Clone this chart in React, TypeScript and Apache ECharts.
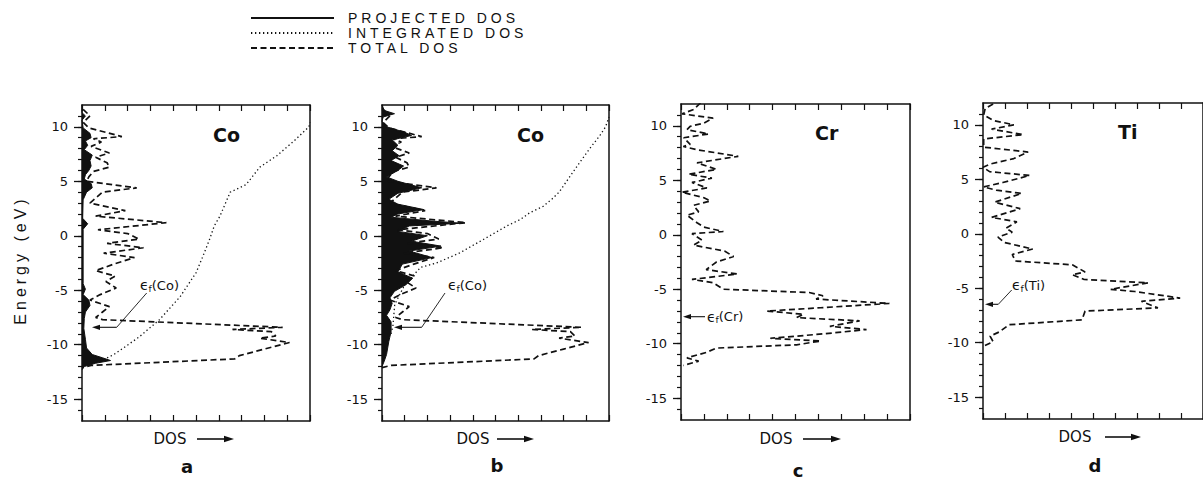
import React, { useEffect, useRef } from "react";
import * as echarts from "echarts";

// ---------- data (pairs are [energy eV, DOS]) ----------
const legendNames = ["PROJECTED DOS", "INTEGRATED DOS", "TOTAL DOS"];
const panelLetters = ["a", "b", "c", "d"];
const elementLabels = ["Co", "Co", "Cr", "Ti"];
const fermiElements = ["Co", "Co", "Cr", "Ti"];
const energyMajorTicks = [-15, -10, -5, 0, 5, 10];
const energyMinorTicks = [-16, -15, -14, -13, -12, -11, -10, -9, -8, -7, -6, -5, -4, -3, -2, -1, 0, 1, 2, 3, 4, 5, 6, 7, 8, 9, 10, 11];

const coTotalDos = [
  [11.6, 0.05], [11.0, 0.35], [10.4, 0.05], [9.9, 0.3], [9.1, 1.75], [8.9, 0.5], [8.6, 0.85], [8.2, 0.4],
  [7.6, 1.2], [7.2, 0.6], [6.7, 1.1], [6.3, 1.2], [5.9, 0.5], [5.4, 0.3], [5.0, 0.2], [4.4, 2.4], [4.0, 0.9],
  [3.0, 0.35], [2.3, 1.9], [1.8, 0.6], [1.2, 3.7], [0.55, 0.7], [0.2, 2.0], [-0.3, 2.5], [-0.7, 1.1],
  [-1.1, 2.7], [-1.6, 0.95], [-2.0, 2.3], [-2.6, 1.4], [-3.2, 0.6], [-3.7, 1.45], [-4.2, 1.05], [-4.8, 1.5],
  [-5.4, 0.8], [-5.9, 0.35], [-6.5, 1.2], [-7.0, 0.9], [-7.5, 0.6], [-7.7, 0.9], [-8.4, 8.8], [-8.6, 6.6],
  [-8.8, 8.3], [-9.2, 8.5], [-9.4, 7.8], [-9.8, 9.1], [-10.4, 8.0], [-11.0, 6.9], [-11.3, 6.7], [-11.9, 0.4],
  [-12.1, 0.0],
];

const coProjectedDosA = [
  [12.0, 0], [11.3, 0], [11.0, 0.15], [10.6, 0], [9.9, 0.05], [9.4, 0.35], [9.0, 0.4], [8.7, 0.15], [8.3, 0.25],
  [7.9, 0.1], [7.4, 0.45], [6.9, 0.35], [6.4, 0.4], [6.0, 0.3], [5.6, 0.15], [5.2, 0.1], [4.8, 0.4], [4.4, 0.45],
  [4.0, 0.2], [3.3, 0.05], [1.6, 0.03], [1.1, 0.25], [0.6, 0.05], [-4.4, 0.05], [-4.9, 0.15], [-5.4, 0.05],
  [-5.9, 0.3], [-6.4, 0.35], [-7.0, 0.15], [-7.6, 0.1], [-8.5, 0.08], [-9.5, 0.15], [-10.3, 0.2], [-10.9, 0.45],
  [-11.2, 0.9], [-11.45, 1.25], [-11.7, 0.6], [-12.0, 0.1], [-12.3, 0],
];

const coIntegratedDosA = [
  [-11.2, 1.1], [-10.9, 1.4], [-9.3, 2.5], [-7.7, 3.4], [-5.6, 4.3], [-3.4, 5.0], [-1.9, 5.3], [-0.3, 5.6],
  [0.9, 5.8], [1.8, 6.05], [4.0, 6.5], [4.7, 7.2], [6.3, 7.8], [7.35, 8.55], [8.7, 9.3], [10.0, 9.95], [10.4, 10.0],
];

const coProjectedDosB = [
  [12.0, 0], [11.5, 0.1], [11.2, 0.55], [10.9, 0.05], [10.5, 0], [10.0, 0.2], [9.5, 1.0], [9.2, 1.3], [8.8, 0.45],
  [8.3, 0.7], [7.8, 0.45], [7.35, 0.75], [6.9, 0.4], [6.4, 0.95], [6.0, 0.7], [5.4, 0.2], [5.0, 0.7], [4.4, 1.75],
  [3.9, 0.7], [3.35, 0.3], [2.9, 0.7], [2.4, 1.85], [2.0, 0.7], [1.7, 0.4], [1.35, 2.2], [1.15, 3.5], [0.9, 1.2],
  [0.4, 0.7], [0.0, 2.0], [-0.5, 1.3], [-0.95, 2.6], [-1.4, 1.2], [-2.0, 2.2], [-2.6, 0.9], [-3.3, 0.7],
  [-3.9, 1.35], [-4.5, 1.05], [-5.1, 0.55], [-5.7, 0.35], [-6.2, 0.45], [-6.8, 0.35], [-7.3, 0.2], [-7.9, 0.4],
  [-8.8, 0.4], [-9.7, 0.3], [-10.9, 0.2], [-11.5, 0.1], [-12.0, 0],
];

const coIntegratedDosB = [
  [-9.0, 0.4], [-8.3, 0.48], [-6.3, 0.56], [-4.5, 1.0], [-2.9, 1.7], [-2.5, 2.4], [-1.6, 3.4], [-0.3, 4.5],
  [0.9, 5.5], [1.5, 6.1], [2.1, 6.5], [2.7, 7.1], [3.4, 7.5], [4.0, 7.8], [4.9, 8.1], [5.8, 8.4], [6.7, 8.7],
  [8.0, 9.15], [9.2, 9.6], [10.0, 9.85], [10.9, 10.0],
];

const crTotalDos = [
  [12.1, 0.85], [11.5, 0.55], [11.1, 0.05], [10.7, 1.4], [10.25, 1.0], [9.95, 0.4], [9.65, 0.26], [9.25, 1.2],
  [8.9, 0.12], [8.3, 0.4], [8.1, 0.1], [7.8, 0.7], [7.2, 2.5], [6.6, 0.7], [6.0, 1.55], [5.55, 0.33], [5.2, 1.35],
  [4.8, 0.48], [4.3, 1.13], [3.9, 0.04], [3.4, 1.0], [3.1, 1.28], [2.7, 0.55], [2.1, 0.77], [1.8, 0.26], [1.1, 0.7],
  [0.7, 1.0], [0.3, 1.85], [0.1, 0.48], [-0.5, 0.92], [-0.95, 0.55], [-1.5, 1.9], [-2.0, 2.3], [-2.5, 1.55],
  [-3.2, 1.1], [-3.6, 2.45], [-4.1, 0.48], [-4.4, 1.4], [-5.0, 1.85], [-5.3, 5.6], [-5.6, 6.2], [-5.9, 5.9],
  [-6.3, 9.1], [-6.7, 6.1], [-7.0, 3.75], [-7.3, 5.35], [-7.6, 5.05], [-7.9, 7.8], [-8.4, 6.5], [-8.7, 8.1],
  [-9.1, 6.2], [-9.5, 3.9], [-9.75, 6.1], [-10.1, 5.05], [-10.4, 1.55], [-10.8, 1.1], [-11.3, 0.26],
  [-11.6, 0.77], [-12.0, 0.1],
];

const tiTotalDos = [
  [11.9, 0.46], [11.5, 0.1], [10.9, 0.03], [10.4, 0.46], [10.0, 1.4], [9.6, 0.39], [9.1, 1.83], [8.7, 0.03],
  [7.95, 0.03], [7.5, 2.05], [6.9, 1.4], [6.4, 0.32], [6.1, 0.0], [5.7, 0.3], [5.35, 2.12], [4.7, 0.9],
  [4.3, 0.03], [4.0, 0.6], [3.7, 1.76], [2.9, 0.53], [2.3, 1.69], [1.5, 0.39], [1.1, 1.54], [0.5, 1.04],
  [0.15, 1.33], [-0.3, 0.68], [-0.8, 0.97], [-1.4, 2.26], [-1.9, 1.33], [-2.5, 1.47], [-2.85, 4.06], [-3.5, 4.64],
  [-3.76, 4.06], [-4.2, 4.6], [-4.5, 7.5], [-5.1, 5.8], [-5.3, 6.9], [-5.9, 8.96], [-6.2, 7.2], [-6.8, 7.95],
  [-7.1, 4.64], [-7.9, 4.5], [-8.35, 1.18], [-9.0, 0.75], [-9.4, 0.32], [-9.9, 0.46], [-10.3, 0.05],
];

// ---------- layout ----------
const INK = "#111";
const FONT = "DejaVu Sans";
const WIDE_FONT = "Liberation Sans";
const grids = [
  { left: 82, top: 105, width: 228, height: 316 },
  { left: 382, top: 105, width: 227, height: 316 },
  { left: 681, top: 104, width: 229, height: 316 },
  { left: 983, top: 103, width: 228, height: 316 },
];
const dosLabelPos = [
  { x: 170, y: 439, a1: 197, a2: 234 },
  { x: 473, y: 439, a1: 497, a2: 534 },
  { x: 776, y: 439, a1: 803, a2: 841 },
  { x: 1075, y: 437, a1: 1105, a2: 1141 },
];
const letterPos = [
  { x: 187, y: 466 },
  { x: 497, y: 465 },
  { x: 798, y: 470 },
  { x: 1095, y: 465 },
];
const elementPos = [
  { x: 213, y: 135 },
  { x: 517, y: 135 },
  { x: 815, y: 133 },
  { x: 1118, y: 132 },
];
const fermiPos = [
  { tx: 140, ty: 285, leader: [146.7, 293, 116.7, 327.3], arrow: [116.7, 327.3, 92, 327.3] },
  { tx: 448, ty: 285, leader: [445, 293, 421.7, 327.3], arrow: [421.7, 327.3, 394, 327.3] },
  { tx: 707, ty: 316.5, leader: null, arrow: [705, 316.7, 683, 316.7] },
  { tx: 1012, ty: 285, leader: [1011.7, 290, 998.3, 304.3], arrow: [998.3, 304.3, 985, 304.3] },
];

const toXY = (pts: number[][]) => pts.map(([e, d]) => [d, e]);

const solid = { color: INK, width: 1, type: "solid" as const };
const dotted = { color: INK, width: 1.3, type: [1.3, 2.7] as any, cap: "butt" as const };
const dashed = { color: INK, width: 1.7, type: [6, 3.5] as any };

function lineSeries(name: string, pts: number[][], panel: number, style: any, z: number) {
  return {
    type: "line",
    name,
    xAxisIndex: panel * 2,
    yAxisIndex: panel * 3,
    data: toXY(pts),
    showSymbol: false,
    symbol: "none",
    silent: true,
    clip: true,
    z,
    itemStyle: { color: INK },
    lineStyle: style,
  };
}

function fillSeries(name: string, pts: number[][], panel: number) {
  const closed = [[0, pts[0][0]], ...toXY(pts), [0, pts[pts.length - 1][0]]];
  return {
    type: "custom",
    name,
    coordinateSystem: "cartesian2d",
    xAxisIndex: panel * 2,
    yAxisIndex: panel * 3,
    data: [[0, 0]],
    silent: true,
    z: 2,
    itemStyle: { color: INK },
    renderItem: (_params: any, api: any) => ({
      type: "polygon",
      shape: { points: closed.map((p) => api.coord(p)) },
      style: { fill: INK, stroke: null },
    }),
  };
}

function text(x: number, y: number, str: string, size: number, extra: any = {}, family = FONT) {
  return {
    type: "text",
    x,
    y,
    silent: true,
    style: {
      text: str,
      fontSize: size,
      fontFamily: family,
      fill: INK,
      align: "left",
      textAlign: "left",
      verticalAlign: "middle",
      textVerticalAlign: "middle",
      ...extra,
    },
  };
}

function seg(x1: number, y1: number, x2: number, y2: number, w = 1) {
  return { type: "line", silent: true, shape: { x1, y1, x2, y2 }, style: { stroke: INK, lineWidth: w } };
}

function head(x: number, y: number, dir: number, len: number, half: number) {
  return {
    type: "polygon",
    silent: true,
    shape: { points: [[x, y], [x - dir * len, y - half], [x - dir * len, y + half]] },
    style: { fill: INK },
  };
}

function buildOption() {
  const xAxis: any[] = [];
  const yAxis: any[] = [];
  grids.forEach((_g, i) => {
    const xBase = {
      type: "value",
      gridIndex: i,
      min: 0,
      max: 10,
      interval: 1,
      axisLine: { show: true, onZero: false, lineStyle: { color: INK, width: 1.5 } },
      axisTick: { show: true, inside: true, length: 6, lineStyle: { color: INK, width: 1.2 } },
      axisLabel: { show: false },
      splitLine: { show: false },
    };
    xAxis.push({ ...xBase, position: "bottom" });
    xAxis.push({ ...xBase, position: "top" });
    const yBase = { type: "value", gridIndex: i, min: -17, max: 12, splitLine: { show: false } };
    yAxis.push({
      ...yBase,
      position: "left",
      axisLine: { show: true, onZero: false, lineStyle: { color: INK, width: 1.5 } },
      axisTick: { show: true, inside: false, length: 8, customValues: energyMajorTicks, lineStyle: { color: INK, width: 1.3 } },
      axisLabel: { show: true, customValues: energyMajorTicks, margin: 14, color: INK, fontFamily: FONT, fontSize: 13 },
    });
    yAxis.push({
      ...yBase,
      position: "left",
      axisLine: { show: false },
      axisTick: { show: true, inside: false, length: 4, customValues: energyMinorTicks, lineStyle: { color: INK, width: 1.2 } },
      axisLabel: { show: false },
    });
    yAxis.push({
      ...yBase,
      position: "right",
      axisLine: { show: true, onZero: false, lineStyle: { color: INK, width: 1.5 } },
      axisTick: { show: false },
      axisLabel: { show: false },
    });
  });

  const series: any[] = [
    lineSeries(legendNames[0], coProjectedDosA, 0, solid, 3),
    lineSeries(legendNames[1], coIntegratedDosA, 0, dotted, 4),
    lineSeries(legendNames[2], coTotalDos, 0, dashed, 4),
    fillSeries(legendNames[0], coProjectedDosA, 0),
    lineSeries(legendNames[0], coProjectedDosB, 1, solid, 3),
    fillSeries(legendNames[0], coProjectedDosB, 1),
    lineSeries(legendNames[1], coIntegratedDosB, 1, dotted, 4),
    lineSeries(legendNames[2], coTotalDos, 1, dashed, 4),
    lineSeries(legendNames[2], crTotalDos, 2, dashed, 4),
    lineSeries(legendNames[2], tiTotalDos, 3, dashed, 4),
  ];

  const graphic: any[] = [];
  graphic.push({
    type: "text",
    x: 20,
    y: 260,
    rotation: Math.PI / 2,
    silent: true,
    style: {
      text: "Energy (eV)",
      fontSize: 16,
      fontFamily: WIDE_FONT,
      fill: INK,
      align: "center",
      textAlign: "center",
      verticalAlign: "middle",
      textVerticalAlign: "middle",
    },
  });
  grids.forEach((_g, i) => {
    const d = dosLabelPos[i];
    graphic.push(text(d.x, d.y, "DOS", 15, { align: "center", textAlign: "center" }));
    graphic.push(seg(d.a1, d.y, d.a2 - 6, d.y, 1.6));
    graphic.push(head(d.a2, d.y, 1, 10, 3.2));
    const l = letterPos[i];
    graphic.push(text(l.x, l.y, panelLetters[i], 18, { align: "center", textAlign: "center", fontWeight: "bold" }));
    const el = elementPos[i];
    graphic.push(text(el.x, el.y, elementLabels[i], 19, { fontWeight: "bold" }));
    const f = fermiPos[i];
    graphic.push({
      type: "text",
      x: f.tx,
      y: f.ty,
      silent: true,
      style: {
        text: `{e|ϵ}{s|f}{n|(${fermiElements[i]})}`,
        fill: INK,
        fontFamily: FONT,
        align: "left",
        textAlign: "left",
        verticalAlign: "middle",
        textVerticalAlign: "middle",
        rich: {
          e: { fontSize: 14, fontFamily: FONT, fill: INK, lineHeight: 16 },
          s: { fontSize: 9, fontFamily: FONT, fill: INK, lineHeight: 6, verticalAlign: "bottom" },
          n: { fontSize: 13, fontFamily: FONT, fill: INK, lineHeight: 16 },
        },
      },
    });
    if (f.leader) graphic.push(seg(f.leader[0], f.leader[1], f.leader[2], f.leader[3], 0.9));
    graphic.push(seg(f.arrow[0], f.arrow[1], f.arrow[2] + 5, f.arrow[3], 1.1));
    graphic.push(head(f.arrow[2], f.arrow[3], -1, 8, 2.6));
  });

  return {
    animation: false,
    backgroundColor: "#fff",
    legend: {
      orient: "vertical",
      left: 250,
      top: 11,
      padding: 0,
      itemWidth: 83,
      itemHeight: 14,
      itemGap: 1,
      selectedMode: false,
      data: legendNames,
      itemStyle: { color: "rgba(0,0,0,0)", borderWidth: 0, opacity: 0 },
      textStyle: { fontFamily: WIDE_FONT, fontSize: 14, color: INK, lineHeight: 14, padding: [0, 0, 0, 9] },
    },
    grid: grids.map((g) => ({ ...g, containLabel: false })),
    xAxis,
    yAxis,
    series,
    graphic,
  };
}

export default function App() {
  const ref = useRef<HTMLDivElement>(null);
  useEffect(() => {
    if (!ref.current) return;
    const chart = echarts.init(ref.current, null, { renderer: "svg" });
    chart.setOption(buildOption() as any);
    return () => chart.dispose();
  }, []);
  return (
    <>
      <style>{`text[style*="Liberation Sans"]{letter-spacing:4px;}`}</style>
      <div
        ref={ref}
        style={{ position: "absolute", left: 0, top: 0, width: 1203, height: 481, background: "#fff" }}
      />
    </>
  );
}
